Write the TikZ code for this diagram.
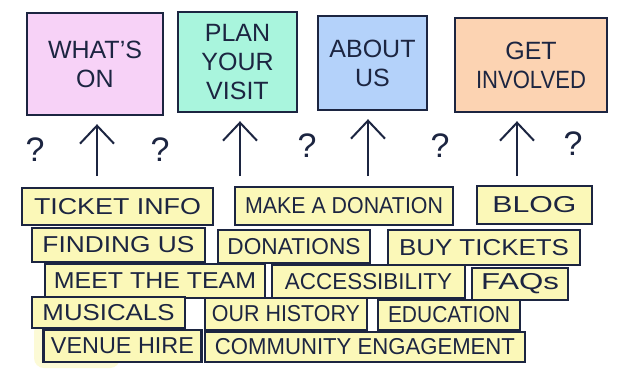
\documentclass[tikz,border=0pt]{standalone}
\usepackage{fontspec}
\usepackage{graphicx}
\setmainfont{Liberation Sans}
\usetikzlibrary{arrows.meta}
\definecolor{ink}{HTML}{1C2541}
\definecolor{pinkbox}{HTML}{F7D2F7}
\definecolor{mintbox}{HTML}{A9F5DD}
\definecolor{bluebox}{HTML}{B4D2FA}
\definecolor{peachbox}{HTML}{FCD3B2}
\definecolor{yelbox}{HTML}{FBF8B8}
\definecolor{halo}{HTML}{FCFAD6}
\tikzset{
  topbox/.style={draw=ink, line width=2.4pt, text=ink, align=center, inner sep=0pt,
    font=\fontsize{25}{29}\selectfont},
  labelbox/.style={draw=ink, line width=2.2pt, fill=yelbox, text=ink, inner sep=0pt,
    font=\fontsize{23}{26}\selectfont},
  uparrow/.style={draw=ink, line width=2pt, -{Straight Barb[length=18pt,width=34pt,line width=2pt]}, shorten >=8pt},
  qmark/.style={text=ink, font=\fontsize{34}{36}\selectfont}
}
% name, x, y, box width, box height, text width, text
\newcommand{\lbox}[7]{\node[labelbox, minimum width=#4pt, minimum height=#5pt] (#1) at (#2,#3) {\resizebox{#6pt}{\height}{#7}};}
\begin{document}
\begin{tikzpicture}[x=1pt,y=-1pt]
\useasboundingbox (0,0) rectangle (630,375);
\fill[white] (0,0) rectangle (630,375);
% faint highlighter halo
\fill[halo, rounded corners=10pt] (34,322) rectangle (120,368);
% top boxes
\node[topbox, fill=pinkbox, minimum width=136pt, minimum height=102pt] (w) at (95,64) {WHAT'S\\ON};
\node[topbox, fill=mintbox, minimum width=119pt, minimum height=100pt] (p) at (237.5,62) {PLAN\\YOUR\\VISIT};
\node[topbox, fill=bluebox, minimum width=109pt, minimum height=94pt] (a) at (372.5,63) {ABOUT\\US};
\node[topbox, fill=peachbox, minimum width=152pt, minimum height=94pt] (g) at (531,65) {GET\\\resizebox{110pt}{\height}{INVOLVED}};
% arrows
\coordinate (c1) at (97,176);
\coordinate (c2) at (240,176);
\coordinate (c3) at (368,176);
\coordinate (c4) at (517,176);
\draw[uparrow] (c1) -- (c1 |- w.south);
\draw[uparrow] (c2) -- (c2 |- p.south);
\draw[uparrow] (c3) -- (c3 |- a.south);
\draw[uparrow] (c4) -- (c4 |- g.south);
% question marks
\node[qmark] (q1) at (35,150) {?};
\node[qmark] (q2) at (160,150) {?};
\node[qmark] (q3) at (307,146) {?};
\node[qmark] (q4) at (440,146) {?};
\node[qmark] (q5) at (573,144) {?};
% label boxes
\lbox{ti}{117.5}{206.5}{191}{37}{167}{TICKET INFO}
\lbox{md}{344}{206}{218}{38}{198}{MAKE A DONATION}
\lbox{bl}{534.5}{205}{115}{38}{84}{BLOG}
\lbox{fu}{118.5}{245}{173}{34}{152}{FINDING US}
\lbox{do}{294}{246.5}{152}{33}{133}{DONATIONS}
\lbox{bt}{484}{247.5}{192}{35}{170}{BUY TICKETS}
\lbox{mt}{155}{281}{220}{34}{202}{MEET THE TEAM}
\lbox{ac}{368.5}{281.5}{193}{33}{167}{ACCESSIBILITY}
\lbox{fq}{520}{284}{96}{32}{78}{FAQs}
\lbox{mu}{108.5}{312.5}{153}{31}{132}{MUSICALS}
\lbox{oh}{286}{314}{162}{32}{148}{OUR HISTORY}
\lbox{ed}{449}{315}{142}{30}{122}{EDUCATION}
\lbox{vh}{122.5}{346}{158}{32}{143}{VENUE HIRE}
\lbox{ce}{365}{347}{320}{30}{300}{COMMUNITY ENGAGEMENT}
\end{tikzpicture}
\end{document}
